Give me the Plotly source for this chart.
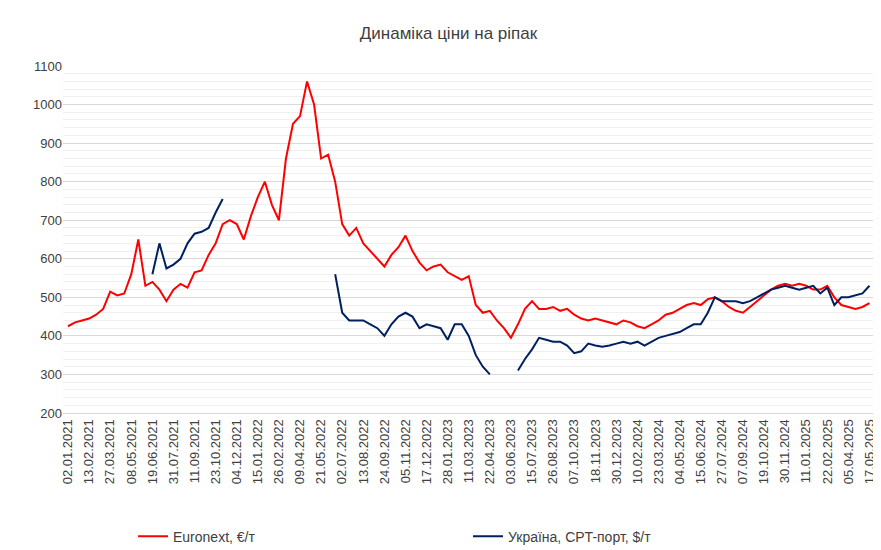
import datetime as dt
import plotly.graph_objects as go

start = dt.date(2021, 1, 2)
dates = [start + dt.timedelta(days=14 * i) for i in range(115)]

euronext = [425, 435, 440, 445, 455, 470, 515, 505, 510, 560,
            650, 530, 540, 520, 490, 520, 535, 525, 565, 570,
            610, 640, 690, 700, 690, 650, 710, 760, 800, 740,
            700, 860, 950, 970, 1060, 1000, 860, 870, 800, 690,
            660, 680, 640, 620, 600, 580, 610, 630, 660, 620,
            590, 570, 580, 585, 565, 555, 545, 555, 480, 460,
            465, 440, 420, 395, 430, 470, 490, 470, 470, 475,
            465, 470, 455, 445, 440, 445, 440, 435, 430, 440,
            435, 425, 420, 430, 440, 455, 460, 470, 480, 485,
            480, 495, 500, 490, 475, 465, 460, 475, 490, 505,
            520, 530, 535, 530, 535, 530, 520, 520, 530, 500,
            480, 475, 470, 475, 485]

ukraine = [None] * 12 + [560, 640, 575, 585, 600, 640, 665, 670, 680, 720, 755] + [None] * 15 + \
          [560, 460, 440, 440, 440, 430, 420, 400, 430, 450,
           460, 450, 420, 430, 425, 420, 390, 430, 430, 400,
           350, 320, 300, None, None, None, 310, 340, 365, 395,
           390, 385, 385, 375, 355, 360, 380, 375, 372, 375,
           380, 385, 380, 385, 375, 385, 395, 400, 405, 410,
           420, 430, 430, 460, 500, 490, 490, 490, 485, 490,
           500, 510, 520, 525, 530, 525, 520, 525, 530, 510,
           525, 480, 500, 500, 505, 510, 530]

tick_dates = [start + dt.timedelta(days=42 * i) for i in range(39)]
tick_labels = [d.strftime("%d.%m.%Y") for d in tick_dates]

fig = go.Figure()
fig.add_trace(go.Scatter(x=dates, y=euronext, mode="lines", name="Euronext, €/т",
                         line=dict(color="#FF0000", width=2), connectgaps=False))
fig.add_trace(go.Scatter(x=dates, y=ukraine, mode="lines", name="Україна, CPT-порт, $/т",
                         line=dict(color="#002060", width=2), connectgaps=False))

fig.update_layout(
    width=881, height=550,
    paper_bgcolor="white", plot_bgcolor="white",
    font=dict(family="Liberation Sans", size=13, color="#404040"),
    title=dict(text="Динаміка ціни на ріпак", x=0.5, xanchor="center", y=0.955,
               yanchor="middle", font=dict(size=17, color="#404040")),
    margin=dict(l=55, r=16, t=58, b=145, autoexpand=False),
    legend=dict(orientation="h", x=0.5, xanchor="center", y=-0.31, yanchor="top",
                font=dict(size=14, color="#404040"), entrywidth=290),
    showlegend=True,
)
fig.update_xaxes(range=[start - dt.timedelta(days=10), dt.date(2025, 5, 24)],
                 tickvals=tick_dates, ticktext=tick_labels, tickangle=-90,
                 showgrid=False, showline=True, linecolor="#d9d9d9", automargin=False,
                 tickfont=dict(size=13, color="#404040"))
fig.update_yaxes(range=[200, 1100], dtick=100, showgrid=True, gridcolor="#d9d9d9",
                 minor=dict(dtick=20, showgrid=True, gridcolor="#f0f0f0"),
                 zeroline=False, automargin=False, tickfont=dict(size=13, color="#404040"))

fig.write_html("out.html")
